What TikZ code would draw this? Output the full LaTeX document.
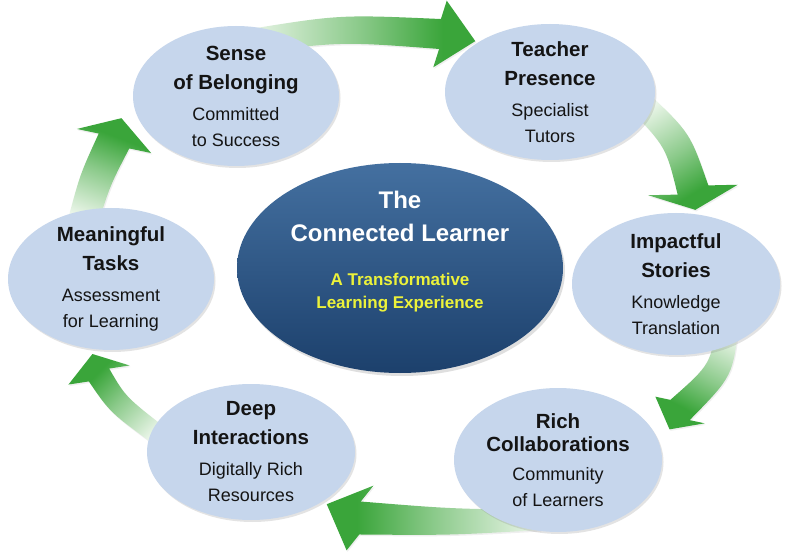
\documentclass[tikz,border=0pt]{standalone}
\usepackage{fontspec}
\setmainfont{Liberation Sans}
\usetikzlibrary{calc,shapes.geometric,shadows}
\definecolor{apale}{RGB}{238,247,236}
\definecolor{agreen}{RGB}{58,165,58}
\definecolor{bubblefill}{RGB}{198,214,236}
\definecolor{hubtop}{RGB}{68,112,160}
\definecolor{hubbottom}{RGB}{28,64,108}
\definecolor{subyellow}{RGB}{236,242,58}
\definecolor{inkdark}{RGB}{20,20,20}
\pgfdeclareverticalshading{arrowgrad}{100bp}{color(0bp)=(apale); color(25bp)=(apale); color(50bp)=(agreen!55!apale); color(68bp)=(agreen); color(100bp)=(agreen)}
\newcommand\hd[1]{{\fontsize{20.5}{29}\selectfont\bfseries #1}}
% #1 tail, #2 control, #3 head base, #4 tail half width, #5 head-end half width,
% #6 head half width, #7 head length, #8 extra head turn, #9 shading angle
\newcommand\cyclearrow[9]{%
  \pgfmathsetmacro\cwm{(#4+#5)/2}%
  \pgfmathsetmacro\cha{#8-90}%
  \pgfmathsetmacro\chb{#8+90}%
  \coordinate (ca0) at (#1);
  \coordinate (caq) at (#2);
  \coordinate (ca2) at (#3);
  \coordinate (cach) at ($(caq)+(ca2)-(ca0)$);
  \shade[arrowbody, shading angle=#9]
    ($(ca0)!#4pt!90:(caq)$)
    .. controls ($(caq)!\cwm pt!90:(cach)$) ..
    ($(ca2)!#5pt!-90:(caq)$)
    -- ($(ca2)!#6pt!\cha:(caq)$)
    -- ($(ca2)!-#7pt!#8:(caq)$)
    -- ($(ca2)!#6pt!\chb:(caq)$)
    -- ($(ca2)!#5pt!90:(caq)$)
    .. controls ($(caq)!\cwm pt!-90:(cach)$) ..
    ($(ca0)!#4pt!-90:(caq)$) -- cycle;
}
\begin{document}
\begin{tikzpicture}[x=1pt,y=-1pt,
  arrowbody/.style={shading=arrowgrad, drop shadow={shadow xshift=1pt, shadow yshift=-1.5pt, opacity=0.12}},
  bubble/.style={ellipse, fill=bubblefill, inner sep=0pt, minimum width=206pt, minimum height=140pt,
     drop shadow={shadow xshift=1.5pt, shadow yshift=-2pt, opacity=0.22}},
  bubbletext/.style={align=center, text=inkdark, inner sep=0pt, font=\fontsize{18}{26}\selectfont},
  hubshape/.style={ellipse, inner sep=0pt, minimum width=326pt, minimum height=210pt,
     top color=hubtop, bottom color=hubbottom,
     drop shadow={shadow xshift=2pt, shadow yshift=-3pt, opacity=0.25}},
  hubtext/.style={align=center, text=white, inner sep=0pt, font=\fontsize{24}{33}\selectfont\bfseries}]
\fill[white] (0,0) rectangle (800,553);
\useasboundingbox (0,0) rectangle (800,553);

% connectors (drawn behind the ellipses)
\cyclearrow{245,42}{340,28}{440,34}{12}{15}{34}{36}{-8}{-90}
\cyclearrow{638,100}{678,140}{693,190}{12}{16}{45}{20}{-10}{-148.6}
\cyclearrow{728,320}{722,370}{680,410}{11}{14}{28}{22}{18}{152}
\cyclearrow{540,520}{450,522}{360,518}{10}{16.5}{35}{36}{-20}{90}
\cyclearrow{165,440}{118,405}{99,375}{10}{12}{32}{22}{-15}{45.4}
\cyclearrow{82,225}{95,180}{114,141}{15}{17}{39}{24}{8}{-20.9}

% ellipses
\node[bubble] (sense) at (236,96) {};
\node[bubble, minimum width=210pt, minimum height=136pt] (teacher) at (550,92) {};
\node[bubble, minimum width=208pt, minimum height=142pt] (impact) at (676,284) {};
\node[bubble, minimum width=208pt, minimum height=144pt] (rich) at (558,460) {};
\node[bubble, minimum width=208pt, minimum height=136pt] (deep) at (251,452) {};
\node[bubble, minimum width=206pt, minimum height=142pt] (meaning) at (111,279) {};
\node[hubshape] (hub) at (400,268) {};

% texts
\node[bubbletext] (senset) at (sense) {\hd{Sense}\\[3pt]\hd{of Belonging}\\[5pt]Committed\\to Success};
\node[bubbletext] (teachert) at (teacher) {\hd{Teacher}\\[3pt]\hd{Presence}\\[5pt]Specialist\\Tutors};
\node[bubbletext] (impactt) at (impact) {\hd{Impactful}\\[3pt]\hd{Stories}\\[5pt]Knowledge\\Translation};
\node[bubbletext] (richt) at (rich) {\hd{Rich}\\[-3pt]\hd{Collaborations}\\[3pt]Community\\of Learners};
\node[bubbletext] (deept) at (deep) {\hd{Deep}\\[3pt]\hd{Interactions}\\[5pt]Digitally Rich\\Resources};
\node[bubbletext] (meaningt) at (meaning) {\hd{Meaningful}\\[3pt]\hd{Tasks}\\[5pt]Assessment\\for Learning};
\node[hubtext] (hubt) at (400,252) {The\\Connected Learner\\[11pt]{\color{subyellow}\fontsize{17}{23}\selectfont A Transformative}\\[-10pt]{\color{subyellow}\fontsize{17}{23}\selectfont Learning Experience}};
\end{tikzpicture}
\end{document}
